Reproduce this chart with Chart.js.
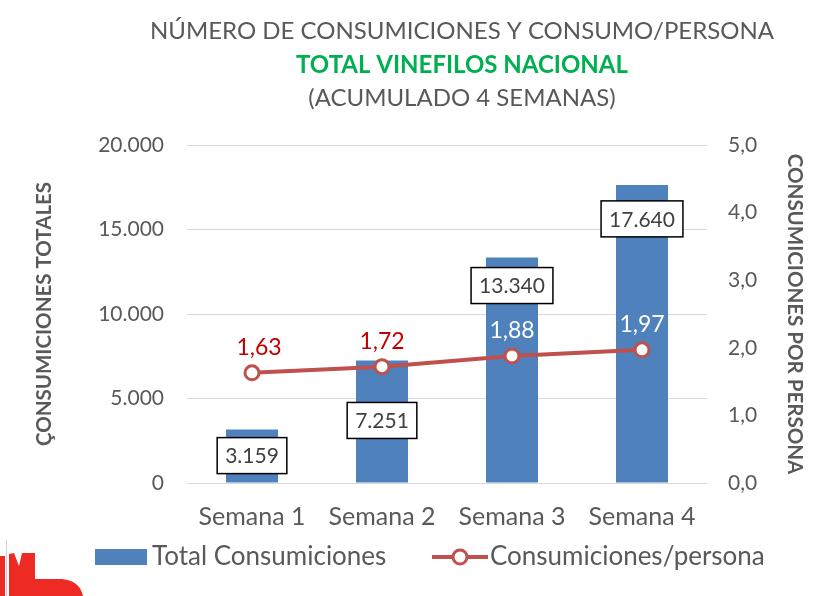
<!DOCTYPE html>
<html>
<head>
<meta charset="utf-8">
<script src="https://cdn.jsdelivr.net/npm/chart.js@4/dist/chart.umd.min.js"></script>
<style>
html,body{margin:0;padding:0;background:#fff;}
#wrap{width:837px;height:596px;position:relative;}
</style>
</head>
<body>
<div id="wrap"><canvas id="c" width="837" height="596"></canvas></div>
<script>
const categories = ['Semana 1', 'Semana 2', 'Semana 3', 'Semana 4'];
const totalConsumiciones = [3159, 7251, 13340, 17640];
const consumicionesPersona = [1.63, 1.72, 1.88, 1.97];
const titleLines = ['NÚMERO DE CONSUMICIONES Y CONSUMO/PERSONA', 'TOTAL VINEFILOS NACIONAL', '(ACUMULADO 4 SEMANAS)'];
const seriesNames = ['Total Consumiciones', 'Consumiciones/persona'];
const leftAxisTitle = 'ÇONSUMICIONES TOTALES';
const rightAxisTitle = 'CONSUMICIONES POR PERSONA';

const FONT = 'Lato, "Open Sans", sans-serif';
const GREY = '#595959';
const BLUE = '#4F81BD';
const RED = '#C0504D';
const DARKRED = '#C00000';
// label placement tweaks (pixels below bar top) and line label colours
const barLabelOffsets = [26, 60, 28, 34];
const lineLabelColors = [DARKRED, DARKRED, '#FFFFFF', '#FFFFFF'];

function fmtThousands(v){
  return Math.round(v).toString().replace(/\B(?=(\d{3})+(?!\d))/g, '.');
}
function fmtDec(v, d){ return v.toFixed(d).replace('.', ','); }

const overlay = {
  id: 'overlay',
  afterDraw(chart){
    const ctx = chart.ctx;
    ctx.save();
    // Titles
    ctx.textAlign = 'center';
    ctx.textBaseline = 'middle';
    const cx = 462;
    ctx.fillStyle = GREY;
    ctx.font = '24px ' + FONT;
    ctx.fillText(titleLines[0], cx, 31);
    ctx.fillStyle = '#00B050';
    ctx.font = 'bold 24px ' + FONT;
    ctx.fillText(titleLines[1], cx, 65);
    ctx.fillStyle = GREY;
    ctx.font = '24px ' + FONT;
    ctx.fillText(titleLines[2], cx, 98);

    // Bar value boxes
    const barMeta = chart.getDatasetMeta(0);
    ctx.font = '21px ' + FONT;
    barMeta.data.forEach((el, i) => {
      const txt = fmtThousands(totalConsumiciones[i]);
      const w = ctx.measureText(txt).width + 16;
      const h = 36;
      const cy = el.y + barLabelOffsets[i];
      const x0 = el.x - w/2, y0 = cy - h/2;
      ctx.fillStyle = '#FFFFFF';
      ctx.fillRect(x0, y0, w, h);
      ctx.strokeStyle = '#000000';
      ctx.lineWidth = 1.5;
      ctx.strokeRect(x0, y0, w, h);
      ctx.fillStyle = '#404040';
      ctx.fillText(txt, el.x, cy + 1);
    });

    // Line value labels
    const lineMeta = chart.getDatasetMeta(1);
    ctx.font = '23px ' + FONT;
    lineMeta.data.forEach((el, i) => {
      ctx.fillStyle = lineLabelColors[i];
      ctx.fillText(fmtDec(consumicionesPersona[i], 2), el.x + (i === 0 ? 7 : 0), el.y - 25);
    });

    // Legend
    const ly = 557;
    ctx.fillStyle = BLUE;
    ctx.fillRect(95, ly - 8, 52, 16);
    ctx.fillStyle = GREY;
    ctx.font = '26px ' + FONT;
    ctx.textAlign = 'left';
    ctx.fillText(seriesNames[0], 152, ly);
    ctx.strokeStyle = RED;
    ctx.lineWidth = 4;
    ctx.beginPath(); ctx.moveTo(432, ly); ctx.lineTo(488, ly); ctx.stroke();
    ctx.beginPath(); ctx.arc(460, ly, 7, 0, Math.PI*2);
    ctx.fillStyle = '#FFFFFF'; ctx.fill();
    ctx.lineWidth = 3; ctx.stroke();
    ctx.fillStyle = GREY;
    ctx.fillText(seriesNames[1], 490, ly);

    // Cropped logo fragment bottom-left
    ctx.fillStyle = '#EE2A24';
    ctx.fillRect(0, 556, 5, 40);
    ctx.beginPath();
    ctx.moveTo(9, 596); ctx.lineTo(9, 554); ctx.lineTo(14, 553);
    ctx.lineTo(19, 566); ctx.lineTo(22, 553); ctx.lineTo(35, 553);
    ctx.lineTo(35, 579); ctx.lineTo(62, 579);
    ctx.quadraticCurveTo(80, 581, 83, 596);
    ctx.closePath(); ctx.fill();
    ctx.strokeStyle = '#D0D0D0'; ctx.lineWidth = 1;
    ctx.beginPath(); ctx.moveTo(6.5, 540); ctx.lineTo(6.5, 596); ctx.stroke();
    ctx.restore();
  }
};

new Chart(document.getElementById('c'), {
  data: {
    labels: categories,
    datasets: [
      {
        type: 'bar',
        label: seriesNames[0],
        data: totalConsumiciones,
        backgroundColor: BLUE,
        yAxisID: 'y',
        categoryPercentage: 1.0,
        barPercentage: 0.4,
        order: 2
      },
      {
        type: 'line',
        label: seriesNames[1],
        data: consumicionesPersona,
        borderColor: RED,
        borderWidth: 4,
        pointRadius: 7,
        pointBackgroundColor: '#FFFFFF',
        pointBorderColor: RED,
        pointBorderWidth: 3,
        tension: 0,
        yAxisID: 'y1',
        order: 1
      }
    ]
  },
  options: {
    responsive: false,
    animation: false,
    devicePixelRatio: 1,
    layout: { padding: { top: 145, bottom: 43, left: 0, right: 0 } },
    plugins: {
      legend: { display: false },
      title: { display: false },
      tooltip: { enabled: false }
    },
    scales: {
      x: {
        grid: { display: false },
        border: { display: false },
        ticks: { color: GREY, font: { family: FONT, size: 25 }, padding: 11 },
        afterFit(s){ s.height = 70; }
      },
      y: {
        position: 'left',
        min: 0, max: 20000,
        ticks: { stepSize: 5000, color: GREY, font: { family: FONT, size: 21 }, padding: 23,
          callback: v => fmtThousands(v) },
        grid: { color: '#D9D9D9', lineWidth: 1, drawTicks: false },
        border: { display: false },
        title: { display: true, text: leftAxisTitle, color: GREY,
          font: { family: FONT, size: 20.5, weight: 'bold' }, padding: { top: 32.5, bottom: 0 } },
        afterFit(s){ s.width = 187; }
      },
      y1: {
        position: 'right',
        min: 0, max: 5,
        ticks: { stepSize: 1, color: GREY, font: { family: FONT, size: 21 }, padding: 21,
          callback: v => fmtDec(v, 1) },
        grid: { display: false, drawTicks: false },
        border: { display: false },
        title: { display: true, text: rightAxisTitle, color: GREY,
          font: { family: FONT, size: 20.5, weight: 'bold' }, padding: { top: 30.5, bottom: 0 } },
        afterFit(s){ s.width = 130; }
      }
    }
  },
  plugins: [overlay]
});
</script>
</body>
</html>
